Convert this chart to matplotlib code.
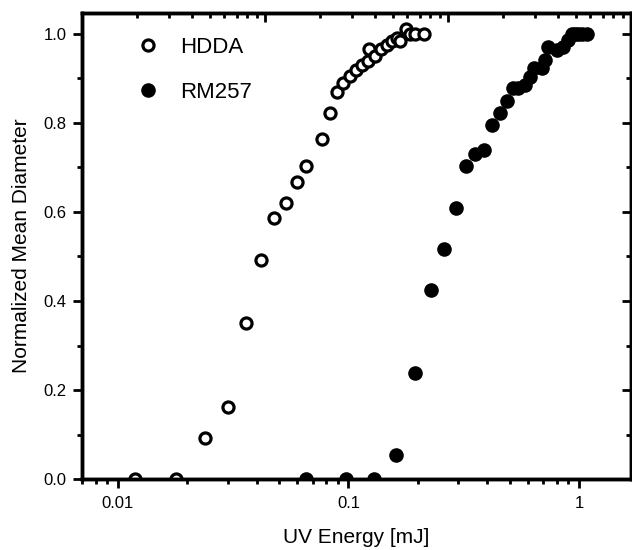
import matplotlib.pyplot as plt
from matplotlib.ticker import LogLocator, MultipleLocator, NullFormatter

plt.rcParams['font.family'] = ['Liberation Sans', 'DejaVu Sans']

# HDDA (open circles)
hdda_energy = [0.0119, 0.0178, 0.0238, 0.0300, 0.0359, 0.0417, 0.0475, 0.0536,
               0.0598, 0.0654, 0.0768, 0.0831, 0.0891, 0.0947, 0.1015, 0.1078,
               0.1145, 0.1215, 0.1227, 0.1303, 0.1384, 0.1469, 0.1545, 0.1623,
               0.1673, 0.1776, 0.1849, 0.1944, 0.2127]
hdda_diam = [0.0, 0.0, 0.092, 0.162, 0.351, 0.492, 0.587, 0.620,
             0.667, 0.703, 0.764, 0.822, 0.870, 0.890, 0.905, 0.918,
             0.930, 0.940, 0.965, 0.950, 0.965, 0.975, 0.985, 0.990,
             0.985, 1.012, 1.000, 1.000, 1.000]

# RM257 (filled circles)
rm_energy = [0.0654, 0.0975, 0.129, 0.1607, 0.1944, 0.228, 0.2596, 0.2927,
             0.3235, 0.354, 0.387, 0.4195, 0.454, 0.487, 0.517, 0.545, 0.583,
             0.613, 0.638, 0.691, 0.712, 0.734, 0.803, 0.853, 0.896, 0.9325,
             0.96, 0.990, 1.03, 1.083]
rm_diam = [0.0, 0.0, 0.0, 0.054, 0.238, 0.425, 0.517, 0.609,
           0.703, 0.730, 0.739, 0.795, 0.822, 0.850, 0.878, 0.878, 0.885,
           0.903, 0.924, 0.924, 0.942, 0.971, 0.964, 0.971, 0.987, 1.0,
           1.0, 1.0, 1.0, 1.0]

xticks = [0.01, 0.1, 1]
xticklabels = ['0.01', '0.1', '1']
yticks = [0.0, 0.2, 0.4, 0.6, 0.8, 1.0]
yticklabels = ['0.0', '0.2', '0.4', '0.6', '0.8', '1.0']

fig = plt.figure(figsize=(6.32, 5.5), dpi=100)
ax = fig.add_axes([0.1297, 0.129, 0.8687, 0.8474])

ax.plot(hdda_energy, hdda_diam, 'o', ms=8, mfc='white', mec='black', mew=2.3,
        ls='none', label='HDDA')
ax.plot(rm_energy, rm_diam, 'o', ms=10.5, mfc='black', mec='black', mew=0,
        ls='none', label='RM257')

ax.set_xscale('log')
ax.set_xlim(0.00698, 1.681)
ax.set_ylim(0.0, 1.047)
ax.set_xticks(xticks, xticklabels)
ax.xaxis.set_minor_locator(LogLocator(base=10, subs=range(2, 10)))
ax.xaxis.set_minor_formatter(NullFormatter())
ax.set_yticks(yticks, yticklabels)
ax.yaxis.set_minor_locator(MultipleLocator(0.1))

for s in ax.spines.values():
    s.set_linewidth(2.5)
ax.tick_params(which='major', direction='out', length=6.5, width=2, labelsize=12, pad=4.5)
ax.tick_params(axis='x', which='major', pad=6)
ax.tick_params(which='minor', direction='out', length=3.5, width=2)
ax.tick_params(top=False, right=False, which='both')

ax.set_xlabel('UV Energy [mJ]', fontsize=15, labelpad=12)
ax.set_ylabel('Normalized Mean Diameter', fontsize=15, labelpad=9)

# top axis: inward ticks, no labels
axt = ax.twiny()
axt.set_xscale('log')
axt.set_xlim(0.001, 1)
axt.xaxis.set_minor_locator(LogLocator(base=10, subs=range(2, 10)))
axt.xaxis.set_minor_formatter(NullFormatter())
axt.tick_params(which='major', direction='in', length=6.5, width=2, labeltop=False)
axt.tick_params(which='minor', direction='in', length=3.5, width=2)
for s in axt.spines.values():
    s.set_linewidth(2.5)

# right axis: inward ticks, no labels
axr = ax.twinx()
axr.set_ylim(ax.get_ylim())
axr.set_yticks(yticks)
axr.yaxis.set_minor_locator(MultipleLocator(0.1))
axr.tick_params(which='major', direction='in', length=6.5, width=2, labelright=False)
axr.tick_params(which='minor', direction='in', length=3.5, width=2)

leg = ax.legend(loc='upper left', bbox_to_anchor=(0.1, 0.949), frameon=False,
                fontsize=16, handlelength=1.0, handletextpad=0.95,
                labelspacing=1.1, borderpad=0, borderaxespad=0, numpoints=1)

fig.savefig('out.png', dpi=100)
